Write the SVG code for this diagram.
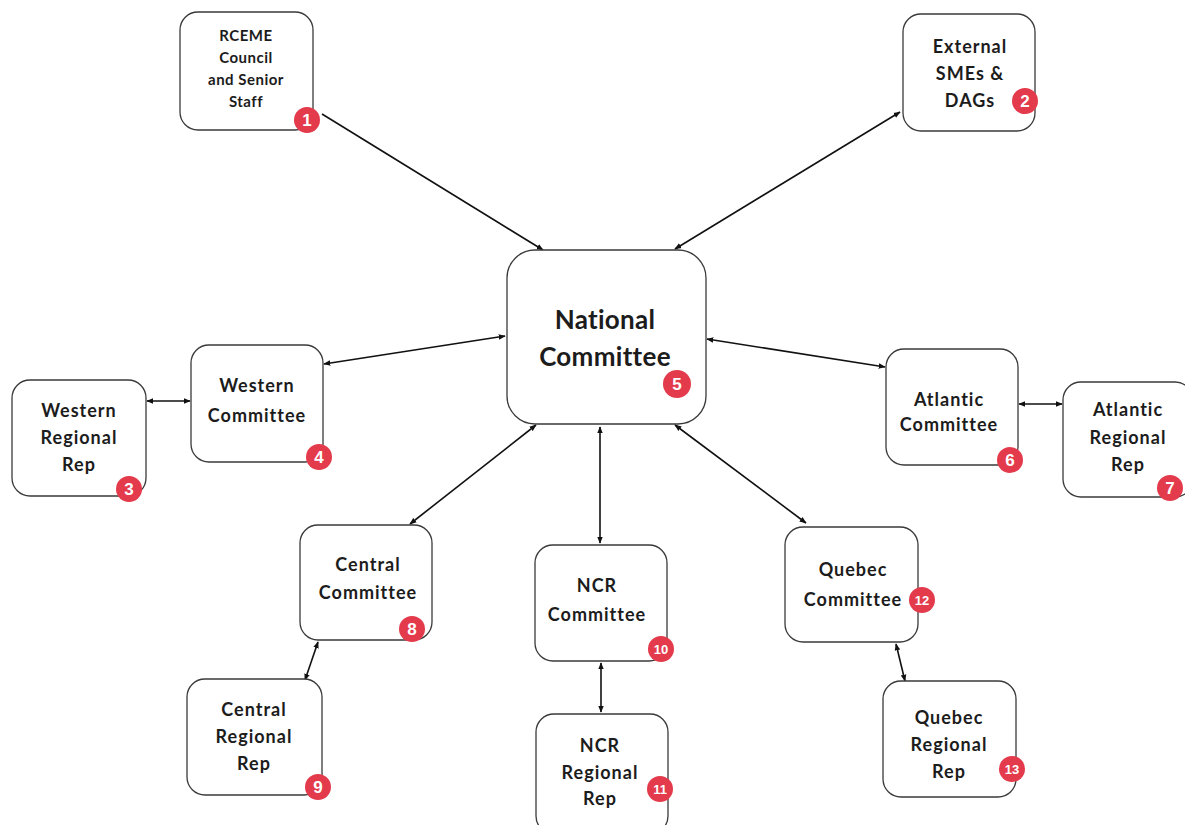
<svg xmlns="http://www.w3.org/2000/svg" width="1185" height="825" viewBox="0 0 1185 825">
<defs>
<style>
.box{fill:#fff;stroke:#3a3a3a;stroke-width:1.3}
.t{font-family:Lato,"Open Sans","Liberation Sans",sans-serif;font-weight:bold;font-size:18px;letter-spacing:1px;fill:#1c1c1c;text-anchor:middle}
.sm{font-size:15px;letter-spacing:0.5px}
.big{font-size:26px;letter-spacing:0.3px}
.badge{fill:#e33a4c}
.bt{font-family:"Liberation Sans",Arial,sans-serif;font-weight:bold;font-size:17px;fill:#fff;text-anchor:middle}
.bt2{font-size:13px}
.ln{stroke:#111;stroke-width:1.6;fill:none}
</style>
<marker id="ah" viewBox="0 0 10 10" refX="9" refY="5" markerWidth="7" markerHeight="7" orient="auto-start-reverse" markerUnits="userSpaceOnUse">
<path d="M0,1 L10,5 L0,9 z" fill="#111"/>
</marker>
</defs>
<rect width="1185" height="825" fill="#fff"/>
<g id="connectors">
<line class="ln" x1="322" y1="114" x2="543" y2="250" marker-end="url(#ah)"/>
<line class="ln" x1="900" y1="112" x2="675" y2="249" marker-start="url(#ah)" marker-end="url(#ah)"/>
<line class="ln" x1="324" y1="364" x2="505" y2="336" marker-start="url(#ah)" marker-end="url(#ah)"/>
<line class="ln" x1="707" y1="339" x2="885" y2="367" marker-start="url(#ah)" marker-end="url(#ah)"/>
<line class="ln" x1="147" y1="401" x2="190" y2="401" marker-start="url(#ah)" marker-end="url(#ah)"/>
<line class="ln" x1="1019" y1="404" x2="1062" y2="404" marker-start="url(#ah)" marker-end="url(#ah)"/>
<line class="ln" x1="536" y1="425" x2="410" y2="524" marker-start="url(#ah)" marker-end="url(#ah)"/>
<line class="ln" x1="600" y1="427" x2="600" y2="543" marker-start="url(#ah)" marker-end="url(#ah)"/>
<line class="ln" x1="675" y1="425" x2="806" y2="523" marker-start="url(#ah)" marker-end="url(#ah)"/>
<line class="ln" x1="318" y1="642" x2="305" y2="680" marker-start="url(#ah)" marker-end="url(#ah)"/>
<line class="ln" x1="601" y1="663" x2="601" y2="712" marker-start="url(#ah)" marker-end="url(#ah)"/>
<line class="ln" x1="896" y1="644" x2="905" y2="681" marker-start="url(#ah)" marker-end="url(#ah)"/>
</g>
<g id="n1">
<rect class="box" x="180" y="12" width="133" height="118" rx="18"/>
<text class="t sm" x="246" y="41">RCEME</text>
<text class="t sm" x="246" y="63">Council</text>
<text class="t sm" x="246" y="85">and Senior</text>
<text class="t sm" x="246" y="107">Staff</text>
<circle class="badge" cx="307" cy="120" r="13"/><text class="bt" x="307" y="126">1</text>
</g>
<g id="n2">
<rect class="box" x="903" y="14" width="132" height="117" rx="18"/>
<text class="t" x="970" y="53">External</text>
<text class="t" x="970" y="80">SMEs &amp;</text>
<text class="t" x="970" y="107">DAGs</text>
<circle class="badge" cx="1025" cy="101" r="13"/><text class="bt" x="1025" y="107">2</text>
</g>
<g id="n5">
<rect class="box" x="507" y="250" width="199" height="174" rx="28"/>
<text class="t big" x="605" y="329">National</text>
<text class="t big" x="605" y="366">Committee</text>
<circle class="badge" cx="677" cy="384" r="14"/><text class="bt" x="677" y="390">5</text>
</g>
<g id="n4">
<rect class="box" x="191" y="345" width="132" height="117" rx="18"/>
<text class="t" x="257" y="392">Western</text>
<text class="t" x="257" y="422">Committee</text>
<circle class="badge" cx="319" cy="457" r="13"/><text class="bt" x="319" y="463">4</text>
</g>
<g id="n3">
<rect class="box" x="12" y="380" width="134" height="116" rx="18"/>
<text class="t" x="79" y="417">Western</text>
<text class="t" x="79" y="444">Regional</text>
<text class="t" x="79" y="471">Rep</text>
<circle class="badge" cx="129" cy="489" r="13"/><text class="bt" x="129" y="495">3</text>
</g>
<g id="n6">
<rect class="box" x="886" y="349" width="132" height="116" rx="18"/>
<text class="t" x="949" y="406">Atlantic</text>
<text class="t" x="949" y="431">Committee</text>
<circle class="badge" cx="1010" cy="460" r="13"/><text class="bt" x="1010" y="466">6</text>
</g>
<g id="n7">
<rect class="box" x="1063" y="382" width="130" height="115" rx="18"/>
<text class="t" x="1128" y="416">Atlantic</text>
<text class="t" x="1128" y="444">Regional</text>
<text class="t" x="1128" y="471">Rep</text>
<circle class="badge" cx="1170" cy="488" r="13"/><text class="bt" x="1170" y="494">7</text>
</g>
<g id="n8">
<rect class="box" x="300" y="525" width="132" height="115" rx="18"/>
<text class="t" x="368" y="571">Central</text>
<text class="t" x="368" y="599">Committee</text>
<circle class="badge" cx="412" cy="629" r="13"/><text class="bt" x="412" y="635">8</text>
</g>
<g id="n9">
<rect class="box" x="187" y="679" width="135" height="116" rx="18"/>
<text class="t" x="254" y="716">Central</text>
<text class="t" x="254" y="743">Regional</text>
<text class="t" x="254" y="770">Rep</text>
<circle class="badge" cx="318" cy="787" r="13"/><text class="bt" x="318" y="793">9</text>
</g>
<g id="n10">
<rect class="box" x="535" y="545" width="132" height="116" rx="18"/>
<text class="t" x="597" y="592">NCR</text>
<text class="t" x="597" y="621">Committee</text>
<circle class="badge" cx="661" cy="649" r="13"/><text class="bt bt2" x="661" y="654">10</text>
</g>
<g id="n11">
<rect class="box" x="536" y="714" width="132" height="120" rx="18"/>
<text class="t" x="600" y="752">NCR</text>
<text class="t" x="600" y="779">Regional</text>
<text class="t" x="600" y="805">Rep</text>
<circle class="badge" cx="660" cy="789" r="13"/><text class="bt bt2" x="660" y="794">11</text>
</g>
<g id="n12">
<rect class="box" x="785" y="527" width="133" height="115" rx="18"/>
<text class="t" x="853" y="576">Quebec</text>
<text class="t" x="853" y="606">Committee</text>
<circle class="badge" cx="922" cy="600" r="13"/><text class="bt bt2" x="922" y="605">12</text>
</g>
<g id="n13">
<rect class="box" x="883" y="681" width="133" height="116" rx="18"/>
<text class="t" x="949" y="724">Quebec</text>
<text class="t" x="949" y="751">Regional</text>
<text class="t" x="949" y="778">Rep</text>
<circle class="badge" cx="1012" cy="769" r="13"/><text class="bt bt2" x="1012" y="774">13</text>
</g>
</svg>
